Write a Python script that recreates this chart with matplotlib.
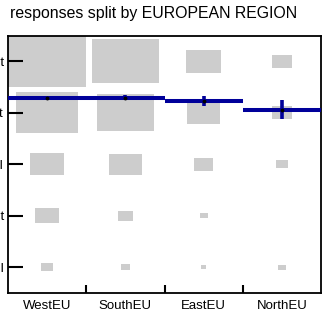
import numpy as np
import matplotlib.pyplot as plt
from matplotlib.patches import Rectangle
from matplotlib.ticker import FixedLocator

plt.rcParams['font.family'] = ['Liberation Sans', 'DejaVu Sans']

# regions and answer levels (1 = lowest, 5 = highest)
regions = ['WestEU', 'SouthEU', 'EastEU', 'NorthEU']
levels = [1, 2, 3, 4, 5]
level_labels = ['Not important at all', 'Not important', 'Neutral',
                'Important', 'Very important']

# response counts per region, for levels 1..5
west = [5, 18, 38, 128, 200]
south = [3, 8, 34, 104, 146]
east = [1, 2, 12, 37, 40]
north = [2, 0, 5, 13, 13]
counts = np.array([west, south, east, north], dtype=float)

fig = plt.figure(figsize=(3.26, 3.35), dpi=100)
ax = fig.add_axes([8 / 326, 42 / 335, 313 / 326, 257.5 / 335])

vmax = counts.max()
for i, row in enumerate(counts):
    x = i + 1
    # grey boxes, area proportional to count
    for lev, c in zip(levels, row):
        if c <= 0:
            continue
        s = np.sqrt(c / vmax)
        ax.add_patch(Rectangle((x - s / 2, lev - s / 2), s, s,
                               facecolor='#cdcdcd', edgecolor='none', zorder=1))
    # mean and standard error
    n = row.sum()
    mean = (row * np.array(levels)).sum() / n
    sd = np.sqrt((row * (np.array(levels) - mean) ** 2).sum() / (n - 1))
    se = sd / np.sqrt(n)
    ax.plot([x - 0.5, x + 0.5], [mean, mean], color='#00009a', lw=2.9,
            solid_capstyle='butt', zorder=3)
    ax.plot([x, x], [mean - se, mean + se], color='#00009a', lw=2.6,
            solid_capstyle='butt', zorder=3)
    ax.plot(x, mean, 'o', color='black', ms=1.8, zorder=4)

ax.set_xlim(0.5, len(regions) + 0.5)
ax.set_ylim(0.5, 5.5)

ax.set_xticks(range(1, len(regions) + 1))
ax.set_xticklabels(regions, fontsize=9.5)
ax.xaxis.set_minor_locator(FixedLocator([1.5, 2.5, 3.5]))
ax.tick_params(axis='x', which='major', length=0, pad=5)
ax.tick_params(axis='x', which='minor', direction='in', length=6, width=1.5)

ax.set_yticks(levels)
ax.set_yticklabels(level_labels, fontsize=9.5)
ax.tick_params(axis='y', direction='in', length=11, width=1.5, pad=3)

for sp in ax.spines.values():
    sp.set_linewidth(1.3)

fig.text(10 / 326, 1 - 18 / 335, 'responses split by EUROPEAN REGION',
         fontsize=11.4, va='baseline', ha='left')

fig.savefig('out.png', dpi=100)
